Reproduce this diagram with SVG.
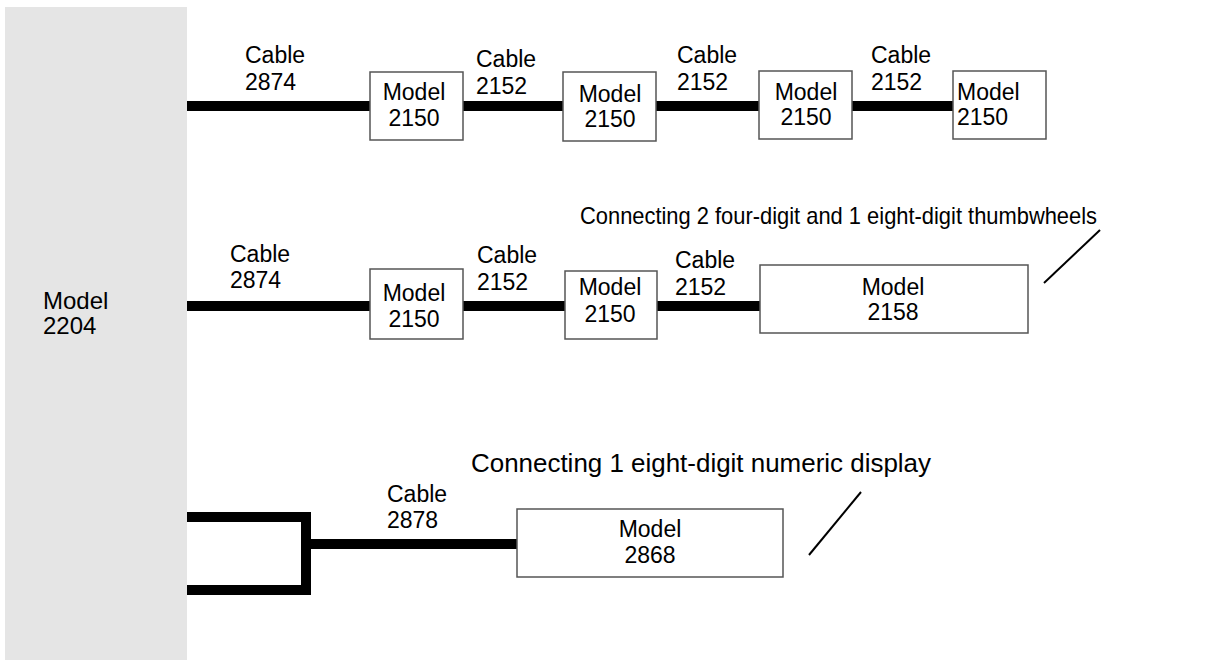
<svg xmlns="http://www.w3.org/2000/svg" width="1208" height="660" viewBox="0 0 1208 660">
<style>
text{font-family:"Liberation Sans",Arial,sans-serif;font-size:23px;fill:#000}
.c{text-anchor:middle}
.box{fill:#fff;stroke:#555;stroke-width:1.5}
.cab{stroke:#000;stroke-width:10;fill:none}
.thin{stroke:#000;stroke-width:2;fill:none}
</style>
<rect width="1208" height="660" fill="#fff"/>
<g id="controller">
<rect x="5" y="7" width="182" height="653" fill="#e5e5e5"/>
<text x="43" y="309" style="font-size:24px">Model</text><text x="43" y="334" style="font-size:24px">2204</text>
</g>
<g id="connectors">
<line class="cab" x1="187" y1="106" x2="370" y2="106"/>
<line class="cab" x1="463" y1="106" x2="563" y2="106"/>
<line class="cab" x1="656" y1="106" x2="759" y2="106"/>
<line class="cab" x1="852" y1="106" x2="953" y2="106"/>
<line class="cab" x1="187" y1="306" x2="370" y2="306"/>
<line class="cab" x1="463" y1="306" x2="565" y2="306"/>
<line class="cab" x1="657" y1="306" x2="760" y2="306"/>
<polyline class="cab" points="187,517 306,517 306,590 187,590"/>
<line class="cab" x1="306" y1="544" x2="517" y2="544"/>
<line class="thin" x1="1044" y1="283" x2="1100" y2="230"/>
<line class="thin" x1="809" y1="555" x2="861" y2="492"/>
</g>
<g id="labels">
<text x="245" y="63">Cable</text><text x="245" y="90">2874</text>
<text x="476" y="67">Cable</text><text x="476" y="94">2152</text>
<text x="677" y="63">Cable</text><text x="677" y="90">2152</text>
<text x="871" y="63">Cable</text><text x="871" y="90">2152</text>
<text x="230" y="262">Cable</text><text x="230" y="288">2874</text>
<text x="477" y="263">Cable</text><text x="477" y="290">2152</text>
<text x="675" y="268">Cable</text><text x="675" y="295">2152</text>
<text x="387" y="502">Cable</text><text x="387" y="528">2878</text>
<text x="580" y="224" style="font-size:24px" textLength="517" lengthAdjust="spacingAndGlyphs">Connecting 2 four-digit and 1 eight-digit thumbwheels</text>
<text x="471" y="472" style="font-size:25px" textLength="460" lengthAdjust="spacingAndGlyphs">Connecting 1 eight-digit numeric display</text>
</g>
<g id="m1"><rect class="box" x="370" y="72" width="93" height="68"/><text class="c" x="414" y="100">Model</text><text class="c" x="414" y="126">2150</text></g>
<g id="m2"><rect class="box" x="563" y="72" width="93" height="69"/><text class="c" x="610" y="102">Model</text><text class="c" x="610" y="127">2150</text></g>
<g id="m3"><rect class="box" x="759" y="71" width="93" height="68"/><text class="c" x="806" y="100">Model</text><text class="c" x="806" y="125">2150</text></g>
<g id="m4"><rect class="box" x="953" y="71" width="93" height="68"/><text x="957" y="100">Model</text><text x="957" y="125">2150</text></g>
<g id="m5"><rect class="box" x="370" y="269" width="93" height="70"/><text class="c" x="414" y="301">Model</text><text class="c" x="414" y="327">2150</text></g>
<g id="m6"><rect class="box" x="565" y="271" width="92" height="68"/><text class="c" x="610" y="295">Model</text><text class="c" x="610" y="322">2150</text></g>
<g id="m7"><rect class="box" x="760" y="265" width="268" height="68"/><text class="c" x="893" y="295">Model</text><text class="c" x="893" y="320">2158</text></g>
<g id="m8"><rect class="box" x="517" y="509" width="266" height="68"/><text class="c" x="650" y="537">Model</text><text class="c" x="650" y="563">2868</text></g>
</svg>
